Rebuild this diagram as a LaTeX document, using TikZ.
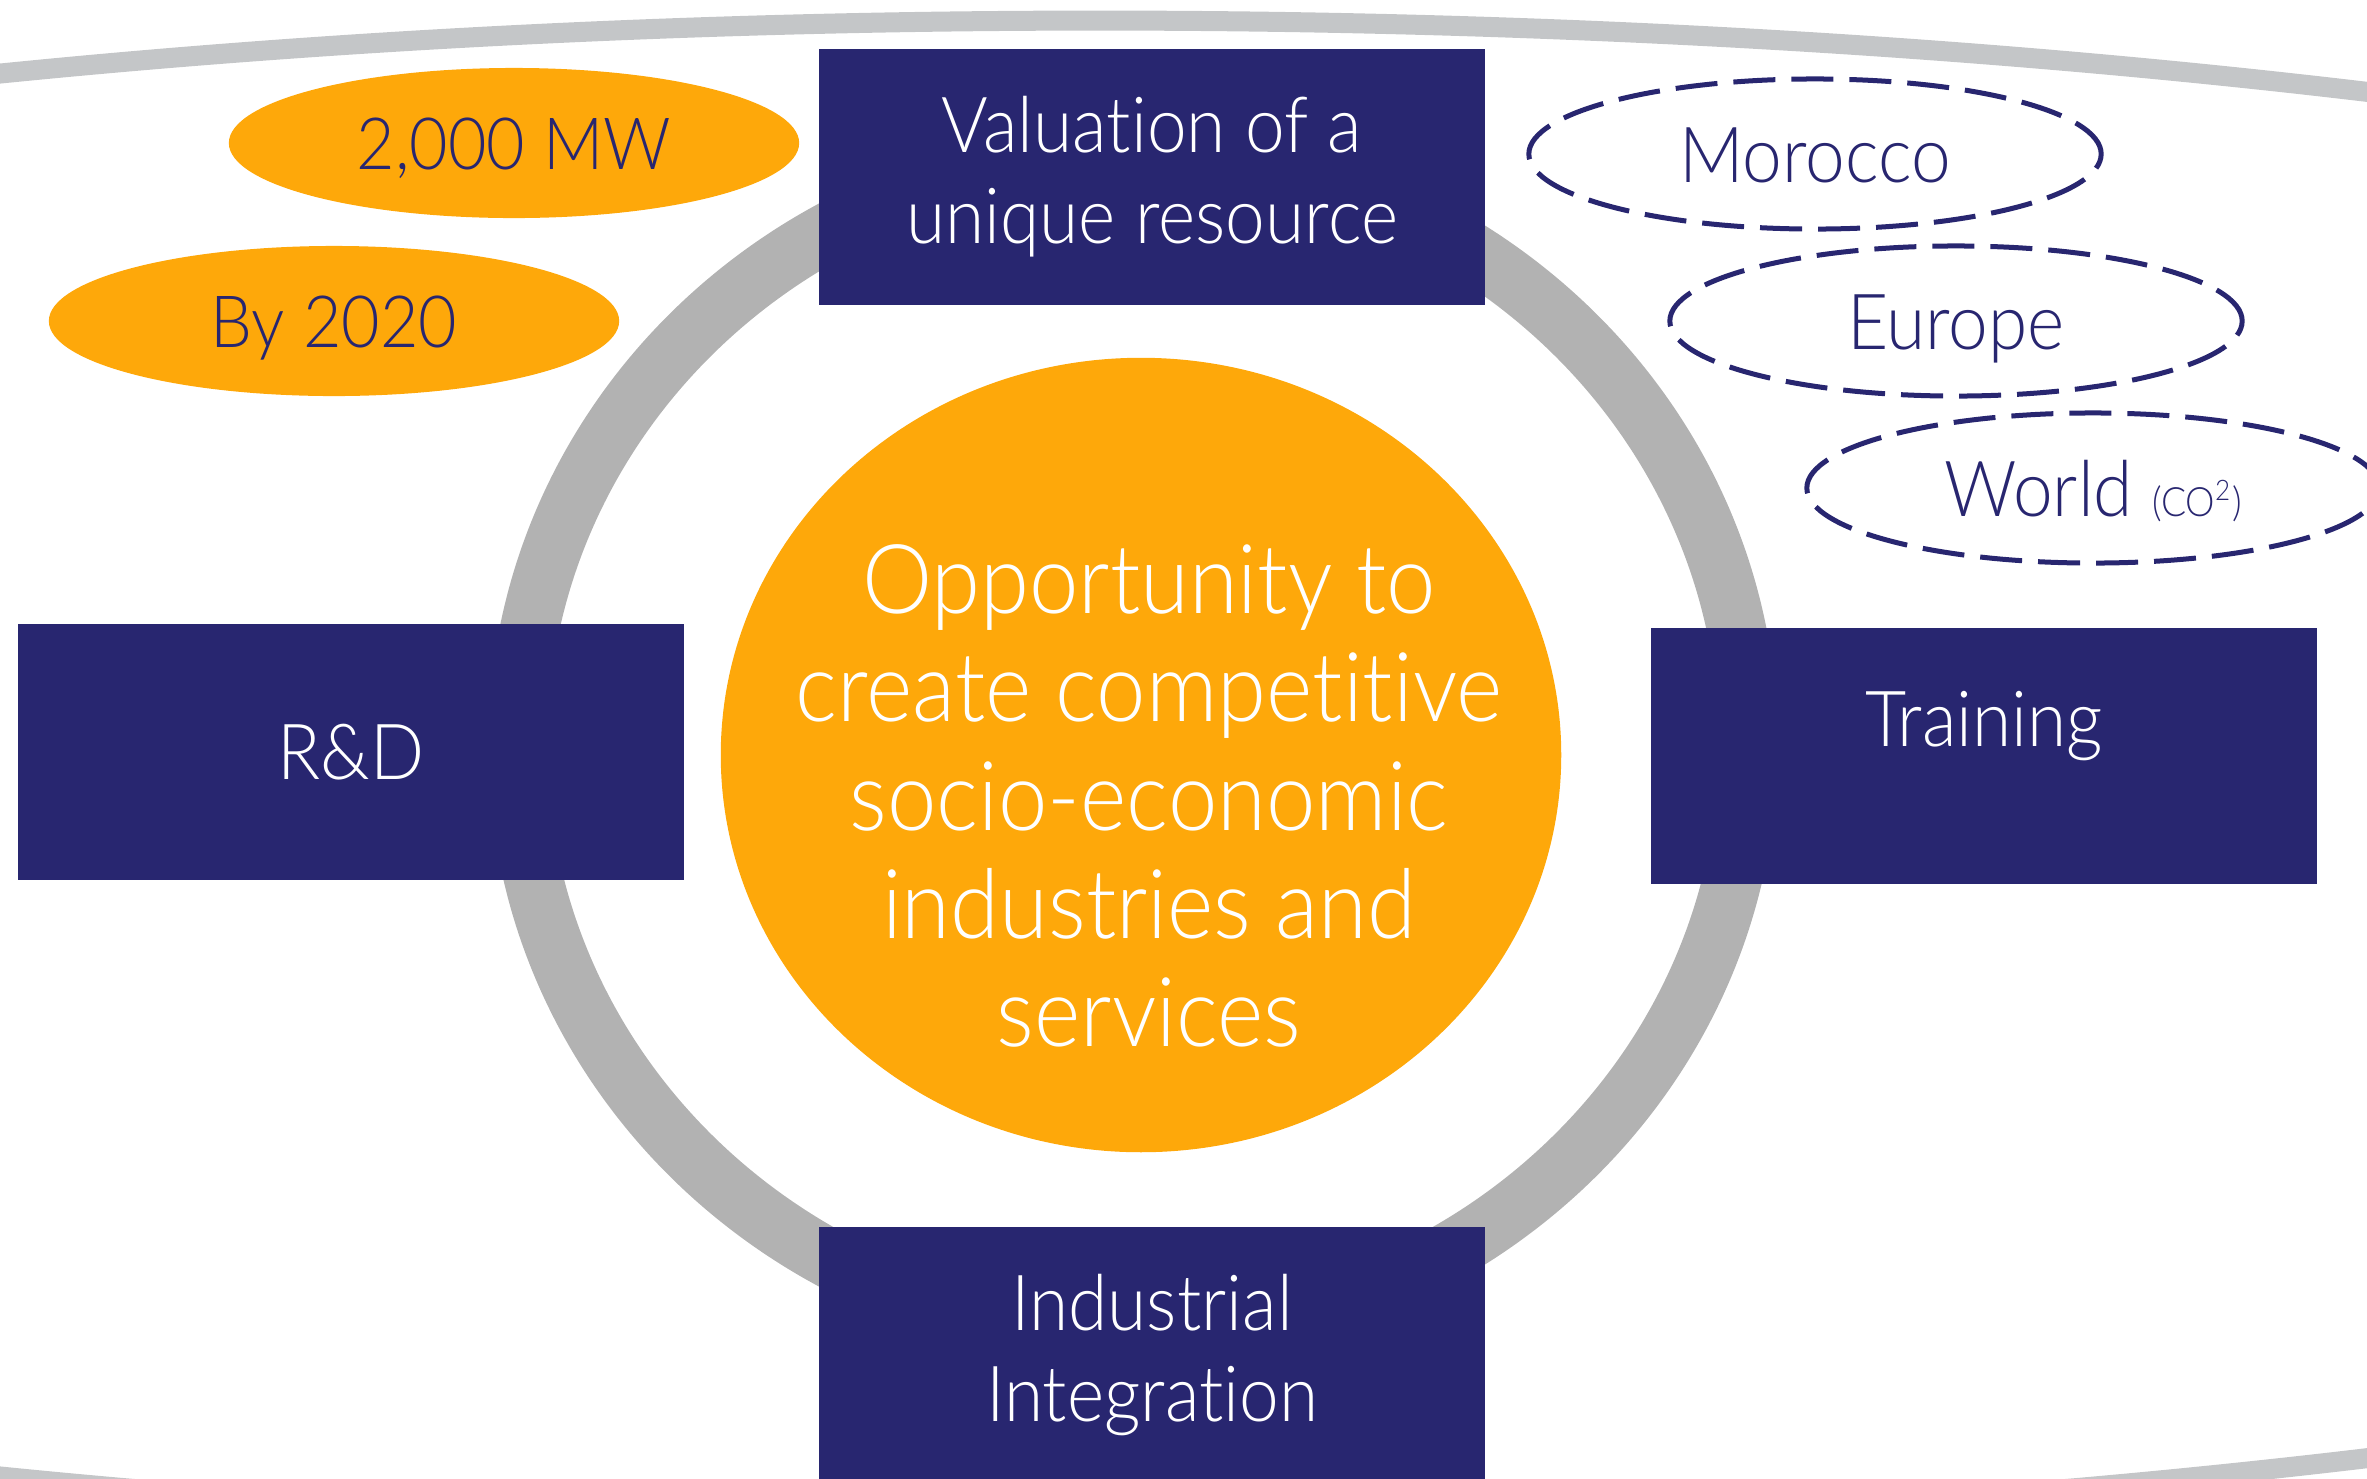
\documentclass[tikz,border=0pt]{standalone}
\usepackage{fontspec}
\setmainfont{Lato Light}[FakeStretch=0.92, Ligatures=NoCommon]
\usepackage{tikz}
\usetikzlibrary{shapes,positioning}
\definecolor{navy}{RGB}{40,38,112}
\definecolor{amber}{RGB}{254,168,10}
\definecolor{ringgrey}{RGB}{178,178,178}
\definecolor{rimgrey}{RGB}{196,198,200}
\tikzstyle{block} = [fill=navy, rectangle, text=white, text centered, align=center, minimum width=6.65cm, minimum height=2.55cm, font=\fontsize{22}{25.8}\selectfont]
\tikzstyle{hub} = [fill=amber, ellipse, minimum width=8.4cm, minimum height=7.94cm]
\tikzstyle{hubtext} = [text=white, align=center, font=\fontsize{27.4}{30.8}\selectfont]
\tikzstyle{badge} = [fill=amber, ellipse, minimum width=5.7cm, minimum height=1.5cm, text=navy, text height=15pt, text depth=0pt, font=\fontsize{20.5}{24}\selectfont]
\tikzstyle{zone} = [draw=navy, line width=0.05cm, dash pattern=on 0.42cm off 0.16cm, ellipse, minimum width=5.72cm, minimum height=1.5cm, text=navy, text height=16pt, text depth=0pt, font=\fontsize{22}{24}\selectfont]

\begin{document}
\begin{tikzpicture}[x=0.01cm, y=-0.01cm]
        \useasboundingbox (0,0) rectangle (2367,1478);
        \clip (0,0) rectangle (2367,1478);
        % outer rim and ring
        \draw[rimgrey, line width=0.2cm] (1100,775) ellipse [x radius=29.8cm, y radius=7.54cm];
        \draw[ringgrey, line width=0.59cm] (1133,745) ellipse [x radius=6.15cm, y radius=5.9cm];
        \node[hub] (hub) at (1141,755) {};
        \node[hubtext] (pitch) at ([xshift=0.08cm, yshift=-0.41cm]hub.center) {Opportunity to\\create competitive\\socio-economic\\industries and\\services};
        \node[block] (valuation) at (1152,177) {Valuation of a\\unique resource};
        \node[block] (rnd) at (351,752) {R\&D};
        \node[block, text depth=0.74cm] (training) at (1984,756) {Training};
        \node[block] (industry) at (1152,1355) {Industrial\\Integration};
        % targets
        \node[badge] (mw) at (514,143) {2,000 MW};
        \node[badge] (year) at (334,321) {By 2020};
        % scope of impact
        \node[zone] (morocco) at (1815,154) {Morocco};
        \node[zone] (europe) at (1956,321) {Europe};
        \node[zone] (world) at (2093,488) {World {\fontsize{11.5}{14}\selectfont(CO\textsuperscript{2})}};
    \end{tikzpicture}
\end{document}
